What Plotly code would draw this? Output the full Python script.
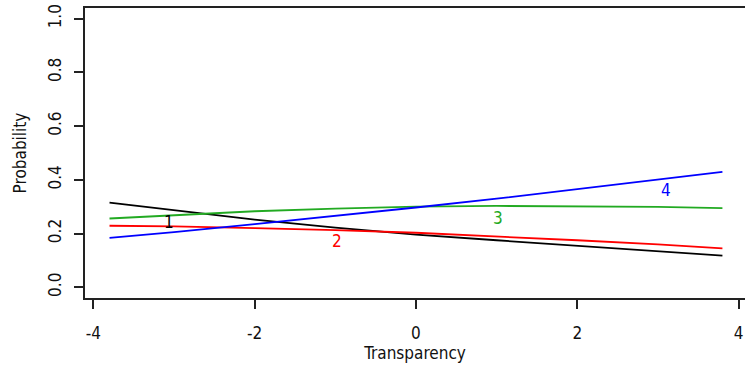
import plotly.graph_objects as go

x_vals = [-3.8, -3.0, -2.0, -1.0, 0.0, 1.0, 2.0, 3.0, 3.8]
p1 = [0.315, 0.287, 0.252, 0.222, 0.196, 0.175, 0.155, 0.135, 0.118]
p2 = [0.229, 0.227, 0.220, 0.213, 0.203, 0.190, 0.175, 0.160, 0.145]
p3 = [0.256, 0.268, 0.283, 0.293, 0.300, 0.303, 0.302, 0.299, 0.295]
p4 = [0.184, 0.205, 0.235, 0.265, 0.297, 0.330, 0.365, 0.400, 0.430]

series_names = ["1", "2", "3", "4"]
series_colors = ["#000000", "#ff0000", "#22aa22", "#0000ff"]
label_x = [-3.06, -0.98, 1.02, 3.10]
label_y = [0.243, 0.172, 0.257, 0.362]

x_ticks = [-4, -2, 0, 2, 4]
x_tick_text = ["-4", "-2", "0", "2", "4"]
y_ticks = [0.0, 0.2, 0.4, 0.6, 0.8, 1.0]
y_tick_text = ["0.0", "0.2", "0.4", "0.6", "0.8", "1.0"]

FONT = "DejaVu Sans Condensed, Liberation Sans Narrow, Arial Narrow, sans-serif"

fig = go.Figure()
for name, ys, col in zip(series_names, [p1, p2, p3, p4], series_colors):
    fig.add_trace(go.Scatter(x=x_vals, y=ys, mode="lines", name=name,
                             line=dict(color=col, width=1.8), showlegend=False))

for name, lx, ly, col in zip(series_names, label_x, label_y, series_colors):
    fig.add_annotation(x=lx, y=ly, text=name, showarrow=False,
                       font=dict(color=col, size=17, family=FONT))

fig.update_layout(
    width=745, height=368,
    margin=dict(l=85, r=0, t=8, b=70),
    plot_bgcolor="white", paper_bgcolor="white",
    font=dict(family=FONT, size=17, color="black"),
)
fig.update_xaxes(range=[-4.104, 4.08], tickvals=x_ticks, ticktext=x_tick_text,
                 ticks="outside", ticklen=9, ticklabelstandoff=10,
                 tickwidth=1.8, tickcolor="#222", showgrid=False, zeroline=False,
                 showline=True, linecolor="#222", linewidth=1.8, mirror=True,
                 tickfont=dict(size=17, family=FONT, color="#111"),
                 title=dict(text="Transparency", font=dict(size=17, family=FONT, color="#111"), standoff=0))
fig.update_yaxes(range=[-0.04, 1.04], tickvals=y_ticks, ticktext=y_tick_text,
                 ticks="outside", ticklen=9, tickwidth=1.8, tickcolor="#222",
                 ticklabelstandoff=6,
                 tickangle=-90, showgrid=False, zeroline=False,
                 showline=True, linecolor="#222", linewidth=1.8,
                 tickfont=dict(size=17, family=FONT, color="#111"),
                 title=dict(text="Probability", font=dict(size=17, family=FONT, color="#111"), standoff=14))

fig.write_html("out.html")
